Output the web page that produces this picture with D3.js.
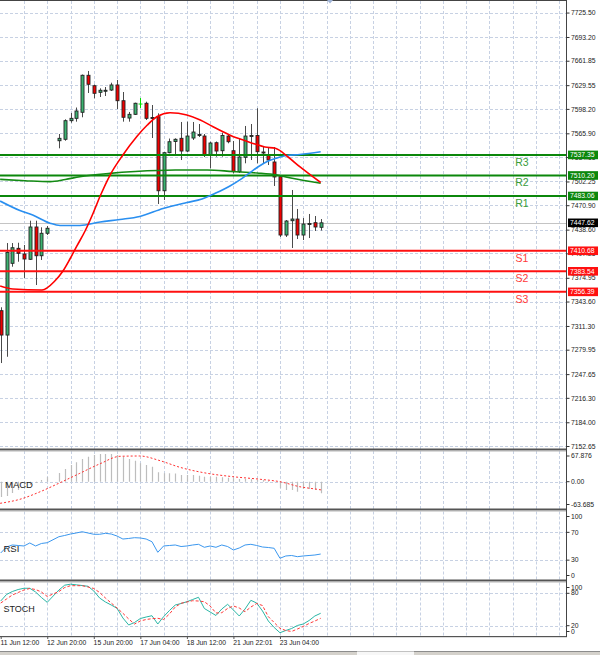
<!DOCTYPE html>
<html>
<head>
<meta charset="utf-8">
<script src="https://cdn.jsdelivr.net/npm/d3@7"></script>
<style>
  body { margin: 0; background: #fff; }
  svg { display: block; font-family: "Liberation Sans", Arial, sans-serif; }
</style>
</head>
<body>
<svg id="chart" width="600" height="655"></svg>
<script>
// ---- data (4H bars, slot 9 is empty) ----
const open  = [7331.5,7299.3,7394.1,7413.9,7406.4,7399.4,7442.1,7404.1,7433.8,null,7556.1,7558.0,7582.6,7585.7,7593.7,7642.6,7628.8,7620.1,7622.2,7623.1,7629.8,7609.0,7586.1,7591.0,7604.6,7605.6,7586.8,7587.9,7490.0,7540.3,7555.1,7559.3,7542.5,7559.7,7563.7,7562.3,7537.2,7553.5,7542.9,7562.3,7542.9,7515.2,7534.2,7562.3,7563.0,7541.2,7537.2,7528.0,7508.6,7431.5,7450.4,7452.6,7431.5,7446.0,7447.8,7441.7];
const high  = [7336.0,7420.9,7420.9,7421.3,7418.3,7450.4,7450.4,7441.7,7443.4,null,7565.0,7584.4,7592.8,7600.0,7643.6,7648.3,7630.4,7625.4,7627.1,7632.8,7636.4,7620.5,7594.1,7606.4,7612.6,7607.7,7603.3,7592.3,7541.2,7559.0,7559.3,7580.9,7581.3,7580.9,7578.2,7565.0,7554.8,7555.1,7566.7,7563.7,7555.7,7558.4,7575.6,7578.2,7599.0,7549.1,7547.2,7547.8,7510.8,7451.3,7491.0,7465.9,7454.0,7459.3,7456.6,7452.6];
const low   = [7262.3,7270.6,7389.6,7396.2,7374.7,7398.5,7365.4,7398.5,7431.5,null,7546.1,7556.1,7579.9,7581.3,7587.1,7619.2,7612.2,7613.9,7615.2,7621.8,7598.0,7581.3,7581.3,7590.1,7599.4,7583.5,7559.7,7472.5,7477.8,7539.5,7537.2,7530.6,7541.2,7557.1,7561.0,7534.6,7519.7,7535.0,7535.0,7552.7,7513.0,7513.5,7526.3,7530.6,7526.3,7526.7,7524.0,7496.3,7428.9,7428.9,7414.3,7426.2,7424.9,7427.5,7436.8,7437.4];
const close = [7299.3,7408.6,7414.7,7407.3,7399.8,7442.1,7404.1,7433.8,7440.4,null,7559.3,7582.6,7585.7,7595.4,7642.6,7630.7,7618.8,7622.8,7622.8,7629.8,7609.0,7587.1,7591.0,7605.6,7604.6,7585.7,7586.1,7490.0,7540.3,7554.8,7558.0,7542.5,7562.3,7567.6,7564.3,7537.2,7553.1,7542.5,7563.0,7554.8,7515.2,7534.6,7562.3,7563.0,7541.6,7539.9,7530.6,7508.2,7431.5,7450.0,7452.6,7431.5,7446.0,7446.7,7442.1,7447.62];

// moving averages as [bar index, price]
const maRed = [[-0.1,7364.1],[2.1,7360.1],[7.1,7358.8],[9.3,7370.7],[10.7,7383.9],[11.9,7399.8],[13.1,7417.0],[14.5,7436.8],[15.9,7460.6],[17.1,7483.0],[18.8,7510.8],[21.0,7537.2],[23.4,7561.7],[25.2,7576.9],[26.9,7588.1],[29.1,7593.1],[32.0,7590.1],[34.3,7583.5],[36.5,7574.6],[38.2,7568.0],[39.9,7561.7],[41.7,7557.1],[43.7,7551.8],[45.4,7547.8],[47.2,7546.1],[49.4,7534.6],[51.4,7521.8],[55.0,7500.9]];
const maBlue = [[-0.1,7476.4],[3.3,7463.9],[5.5,7457.9],[8.5,7447.0],[10.2,7444.1],[13.6,7444.1],[17.1,7448.7],[20.5,7452.0],[23.9,7456.0],[27.9,7466.5],[32.0,7474.5],[34.6,7479.1],[36.8,7486.4],[39.4,7496.3],[41.5,7506.4],[42.9,7514.1],[44.2,7521.4],[45.8,7528.7],[47.5,7533.3],[49.2,7536.6],[51.4,7537.9],[55.0,7541.6]];
const maGreen = [[-0.1,7505.1],[4.2,7503.3],[8.5,7502.0],[11.1,7504.9],[13.6,7508.6],[18.8,7513.0],[23.1,7515.4],[30.0,7517.4],[35.5,7517.4],[39.9,7515.4],[44.1,7513.5],[47.5,7510.8],[50.1,7506.4],[55.0,7499.8]];

// pivot levels
const pivotNames  = ["R3","R2","R1","S1","S2","S3"];
const pivotValues = [7537.35,7510.20,7483.06,7410.68,7383.54,7356.39];
const lastPrice = 7447.62;

// indicators
const macdHist = [-40.0,-37.3,-29.5,-21.7,-15.1,-8.6,-3.4,4.4,12.3,null,22.7,33.2,43.6,50.6,59.3,65.3,69.7,72.3,72.3,72.3,69.7,65.3,59.3,54.8,48.0,43.6,39.2,24.5,21.9,21.9,21.4,17.5,17.5,17.5,15.7,13.1,13.1,13.1,11.5,10.4,8.9,7.0,7.0,6.3,4.4,4.4,2.6,0.5,-16.4,-21.7,-21.7,-26.1,-19.1,-19.1,-21.7,-30.3];
const macdSignal = [[-0.1,-56.4],[3.3,-45.9],[6.8,-26.1],[10.2,-2.6],[13.6,21.9],[17.1,47.0],[20.5,66.3],[23.9,67.1],[27.4,54.8],[30.8,37.6],[35.5,21.9],[39.9,13.1],[44.6,6.3],[48.0,0],[51.4,-13.1],[54.4,-19.8],[55.2,-21.7]];
const rsi = [40.3,48.9,51.8,51.1,50.4,54.7,50.4,54.0,55.1,null,63.7,65.5,67.6,69.1,70.9,69.1,67.2,67.2,68.6,67.6,64.7,60.4,61.2,62.3,61.9,60.4,56.5,41.3,50.4,51.1,51.8,49.6,50.4,51.8,52.8,48.5,50.4,48.5,51.8,49.6,44.6,47.5,51.8,52.8,51.1,48.9,48.2,47.1,32.7,36.0,36.7,35.0,36.0,36.7,37.4,38.8];
const stochK = [65.7,77.8,83.3,87.0,89.3,89.3,82.4,72.2,63.3,null,86.1,95.0,96.9,95.7,94.4,93.0,84.3,71.3,63.9,58.3,52.2,34.3,21.3,25.9,33.3,36.1,38.5,23.1,36.7,48.1,58.3,61.1,64.4,68.5,72.6,51.9,45.4,38.9,50.9,59.6,49.1,38.0,50.9,67.0,62.0,47.2,28.7,16.7,7.0,11.1,14.8,20.4,23.1,29.6,38.0,43.0];
const stochD = [62.0,69.4,76.9,81.5,86.1,88.9,87.0,82.4,74.1,null,83.3,90.7,94.1,94.1,94.1,91.7,88.9,81.5,71.3,62.0,52.8,43.0,32.4,23.1,28.7,31.5,33.0,33.7,31.5,41.7,54.6,61.5,63.9,66.3,65.7,64.4,56.5,43.5,44.1,51.9,56.5,52.8,45.9,54.6,61.1,57.4,36.7,25.9,15.2,11.1,9.3,13.9,18.5,24.1,28.7,33.7];

// axis labels
const priceTicks = [7725.50,7693.20,7661.85,7629.55,7598.20,7565.90,7534.55,7502.25,7470.90,7438.60,7407.25,7374.95,7343.60,7311.30,7279.95,7247.65,7216.30,7184.00,7152.65];
const macdTicks = [67.876,0,-63.685];
const macdTickLabels = ["67.876","0.00","-63.685"];
const rsiTicks = [100,70,30,0];
const stochTicks = [100,80,20,0];
const timeIdx = [0,8,16,24,32,40,48];
const timeLabels = ["11 Jun 12:00","12 Jun 20:00","15 Jun 20:00","17 Jun 04:00","18 Jun 12:00","21 Jun 22:01","23 Jun 04:00"];

// ---- layout ----
const plotRight = 566.5;
const panels = {
    main:  { top: 1,     bottom: 449 },
    macd:  { top: 451,   bottom: 509.5 },
    rsi:   { top: 511.5, bottom: 580.5 },
    stoch: { top: 582.5, bottom: 636.5 }
};
const gridColor = "#c7d1e3";
const axisFont = 6.8;

const svg = d3.select("#chart");

const x = d3.scaleLinear().domain([0, 97]).range([0.7, 0.7 + 97 * 5.818]);
const y = d3.scaleLinear().domain([7152.65, 7725.50]).range([446.0, 12.56]);
const yMacd = d3.scaleLinear().domain([-63.685, 67.876]).range([506.1, 455.7]);
const yRsi = d3.scaleLinear().domain([0, 100]).range([581, 511.5]);
const ySto = d3.scaleLinear().domain([0, 100]).range([636.5, 582.5]);

// clip paths per panel
const defs = svg.append("defs");
Object.entries(panels).forEach(([k, p]) => {
    defs.append("clipPath").attr("id", "clip-" + k)
        .append("rect").attr("x", 0).attr("y", p.top).attr("width", plotRight).attr("height", p.bottom - p.top);
});

// vertical grid through all panels
Object.values(panels).forEach(p => {
    svg.append("g").selectAll("line")
        .data(d3.range(4, 97, 4))
        .join("line")
        .attr("x1", d => Math.round(x(d)) + 0.5).attr("x2", d => Math.round(x(d)) + 0.5)
        .attr("y1", p.top).attr("y2", p.bottom)
        .attr("stroke", gridColor).attr("stroke-dasharray", "3,2");
});

// horizontal grid
function hGrid(vals, scale) {
    svg.append("g").selectAll("line")
        .data(vals)
        .join("line")
        .attr("x1", 0).attr("x2", plotRight)
        .attr("y1", d => Math.round(scale(d)) + 0.5).attr("y2", d => Math.round(scale(d)) + 0.5)
        .attr("stroke", gridColor).attr("stroke-dasharray", "3,2");
}
hGrid(priceTicks, y);
hGrid([0], yMacd);
hGrid([70, 30], yRsi);
hGrid([80, 20], ySto);

// ---- main panel ----
const main = svg.append("g").attr("clip-path", "url(#clip-main)");

// bid line
main.append("line")
    .attr("x1", 0).attr("x2", plotRight)
    .attr("y1", Math.round(y(lastPrice)) + 0.5).attr("y2", Math.round(y(lastPrice)) + 0.5)
    .attr("stroke", "#c4c4c4");

// candles
const bars = d3.range(open.length).filter(i => open[i] !== null)
    .map(i => ({ i, o: open[i], h: high[i], l: low[i], c: close[i] }));

const candle = main.append("g").selectAll("g")
    .data(bars)
    .join("g");

candle.append("line")
    .attr("x1", d => Math.round(x(d.i)) + 0.5).attr("x2", d => Math.round(x(d.i)) + 0.5)
    .attr("y1", d => y(d.h)).attr("y2", d => y(d.l))
    .attr("stroke", d => d.o === d.c ? "#00e000" : "#4a4a4a");

candle.filter(d => d.o !== d.c).append("rect")
    .attr("x", d => Math.round(x(d.i)) - 1)
    .attr("y", d => y(Math.max(d.o, d.c)))
    .attr("width", 3)
    .attr("height", d => Math.max(1, Math.abs(y(d.o) - y(d.c))))
    .attr("fill", d => d.c > d.o ? "#3cb371" : "#f00000")
    .attr("stroke", "#222")
    .attr("stroke-width", 0.9);

candle.filter(d => d.o === d.c).append("line")
    .attr("x1", d => Math.round(x(d.i)) - 1.5).attr("x2", d => Math.round(x(d.i)) + 2.5)
    .attr("y1", d => y(d.o)).attr("y2", d => y(d.o))
    .attr("stroke", "#00e000");

// pivot lines
main.append("g").selectAll("line")
    .data(pivotValues)
    .join("line")
    .attr("x1", 0).attr("x2", plotRight)
    .attr("y1", d => y(d)).attr("y2", d => y(d))
    .attr("stroke", (_d, i) => pivotNames[i][0] === "R" ? "#0b870b" : "#ff1010")
    .attr("stroke-width", 2);

svg.append("g").selectAll("text")
    .data(pivotValues)
    .join("text")
    .attr("x", 522).attr("y", d => y(d) + 11)
    .attr("text-anchor", "middle")
    .attr("font-size", 10.5)
    .attr("fill", (_d, i) => pivotNames[i][0] === "R" ? "#3a9d3a" : "#ff3a3a")
    .text((_d, i) => pivotNames[i]);

// moving averages
const maLine = d3.line().x(d => x(d[0])).y(d => y(d[1])).curve(d3.curveMonotoneX);
[[maGreen, "#138a13"], [maBlue, "#2a8ff0"], [maRed, "#ff0000"]].forEach(([data, col]) => {
    main.append("path")
        .attr("d", maLine(data))
        .attr("fill", "none")
        .attr("stroke", col)
        .attr("stroke-width", 1.6);
});

// ---- MACD ----
const macdG = svg.append("g").attr("clip-path", "url(#clip-macd)");
macdG.append("g").selectAll("line")
    .data(d3.range(macdHist.length).filter(i => macdHist[i] !== null))
    .join("line")
    .attr("x1", i => Math.round(x(i)) + 0.5).attr("x2", i => Math.round(x(i)) + 0.5)
    .attr("y1", yMacd(0)).attr("y2", i => yMacd(macdHist[i]))
    .attr("stroke", "#bdbdbd").attr("stroke-width", 1.2);

const idxLine = (scale) => d3.line().x(d => x(d[0])).y(d => scale(d[1]));
macdG.append("path")
    .attr("d", idxLine(yMacd).curve(d3.curveMonotoneX)(macdSignal))
    .attr("fill", "none").attr("stroke", "#ff3030")
    .attr("stroke-width", 1).attr("stroke-dasharray", "2,2");

// ---- RSI ----
const pairs = arr => d3.range(arr.length).filter(i => arr[i] !== null).map(i => [i, arr[i]]);
svg.append("path")
    .attr("clip-path", "url(#clip-rsi)")
    .attr("d", idxLine(yRsi)(pairs(rsi)))
    .attr("fill", "none").attr("stroke", "#3b97ee").attr("stroke-width", 1);

// ---- Stochastic ----
const stoG = svg.append("g").attr("clip-path", "url(#clip-stoch)");
stoG.append("path")
    .attr("d", idxLine(ySto)(pairs(stochK)))
    .attr("fill", "none").attr("stroke", "#2ab5a5").attr("stroke-width", 1);
stoG.append("path")
    .attr("d", idxLine(ySto)(pairs(stochD)))
    .attr("fill", "none").attr("stroke", "#ff3a3a")
    .attr("stroke-width", 1).attr("stroke-dasharray", "3,2");

// panel titles
[["MACD", 5, 487.5, 9.5], ["RSI", 3.5, 551.5, 9.5], ["STOCH", 3.5, 611.5, 9]].forEach(([t, tx, ty, fs]) => {
    svg.append("text").attr("x", tx).attr("y", ty)
        .attr("font-size", fs).attr("fill", "#222").text(t);
});

// ---- frame ----
svg.append("line").attr("x1", 0).attr("x2", plotRight).attr("y1", 0.5).attr("y2", 0.5).attr("stroke", "#444");
[449.5, 509.5, 580.5].forEach(sy => {
    svg.append("rect").attr("x", 0).attr("y", sy - 1).attr("width", plotRight + 0.5).attr("height", 2).attr("fill", "#555");
    svg.append("line").attr("x1", 0).attr("x2", plotRight).attr("y1", sy + 1.5).attr("y2", sy + 1.5).attr("stroke", "#b5b5b5");
});
svg.append("rect").attr("x", 0).attr("y", 636).attr("width", plotRight + 0.5).attr("height", 1.2).attr("fill", "#555");
svg.append("line").attr("x1", plotRight).attr("x2", plotRight).attr("y1", 0).attr("y2", 637).attr("stroke", "#444");

// chart shift marker
svg.append("path").attr("d", "M327,0 L333,0 L330,3.5 Z").attr("fill", "#9fb3d6");

// ---- right axes ----
function rightAxis(scale, vals, fmt, p) {
    const g = svg.append("g")
        .attr("transform", `translate(${plotRight},0)`)
        .call(d3.axisRight(scale).tickValues(vals).tickSize(3).tickPadding(1.5).tickFormat(fmt));
    g.select(".domain").remove();
    g.selectAll(".tick line").attr("stroke", "#333");
    g.selectAll(".tick text").attr("font-size", axisFont).attr("fill", "#222")
        .attr("font-family", "Liberation Sans, Arial, sans-serif");
    if (p) {
        g.selectAll(".tick").attr("transform", d =>
            `translate(0,${Math.min(p.bottom - 5, Math.max(p.top + 5, scale(d)))})`);
    }
}
rightAxis(y, priceTicks, d3.format(".2f"));
rightAxis(yMacd, macdTicks, (_d, i) => macdTickLabels[i], panels.macd);
rightAxis(yRsi, rsiTicks, d3.format("d"), panels.rsi);
rightAxis(ySto, stochTicks, d3.format("d"), panels.stoch);

// price tags
const tags = pivotValues.map((v, i) => ({ v, fill: pivotNames[i][0] === "R" ? "#0b870b" : "#ff1010" }))
    .concat([{ v: lastPrice, fill: "#000" }]);
const tag = svg.append("g").selectAll("g")
    .data(tags)
    .join("g")
    .attr("transform", d => `translate(${plotRight + 1.5},${y(d.v)})`);
tag.append("rect")
    .attr("x", 0).attr("y", -4.3).attr("width", 30).attr("height", 8.6)
    .attr("fill", d => d.fill);
tag.append("text")
    .attr("x", 2).attr("y", 2.4)
    .attr("font-size", axisFont).attr("fill", "#fff")
    .text(d => d.v.toFixed(2));

// ---- time axis ----
const tAxis = svg.append("g")
    .attr("transform", "translate(0,637)")
    .call(d3.axisBottom(x).tickValues(timeIdx).tickSize(2).tickPadding(1.5).tickFormat((_d, i) => timeLabels[i]));
tAxis.select(".domain").remove();
tAxis.selectAll(".tick line").attr("stroke", "#555");
tAxis.selectAll(".tick text")
    .attr("text-anchor", "start").attr("x", -0.7)
    .attr("font-size", axisFont).attr("fill", "#222")
    .attr("font-family", "Liberation Sans, Arial, sans-serif");

// bottom tab strip
svg.append("rect").attr("x", 0).attr("y", 651).attr("width", 600).attr("height", 4).attr("fill", "#d4d1cb");
svg.append("line").attr("x1", 0).attr("x2", 600).attr("y1", 651.5).attr("y2", 651.5).attr("stroke", "#8c8c8c");
svg.append("rect").attr("x", 357).attr("y", 651.5).attr("width", 57).attr("height", 3.5).attr("fill", "#f7f7f7");
</script>
</body>
</html>
